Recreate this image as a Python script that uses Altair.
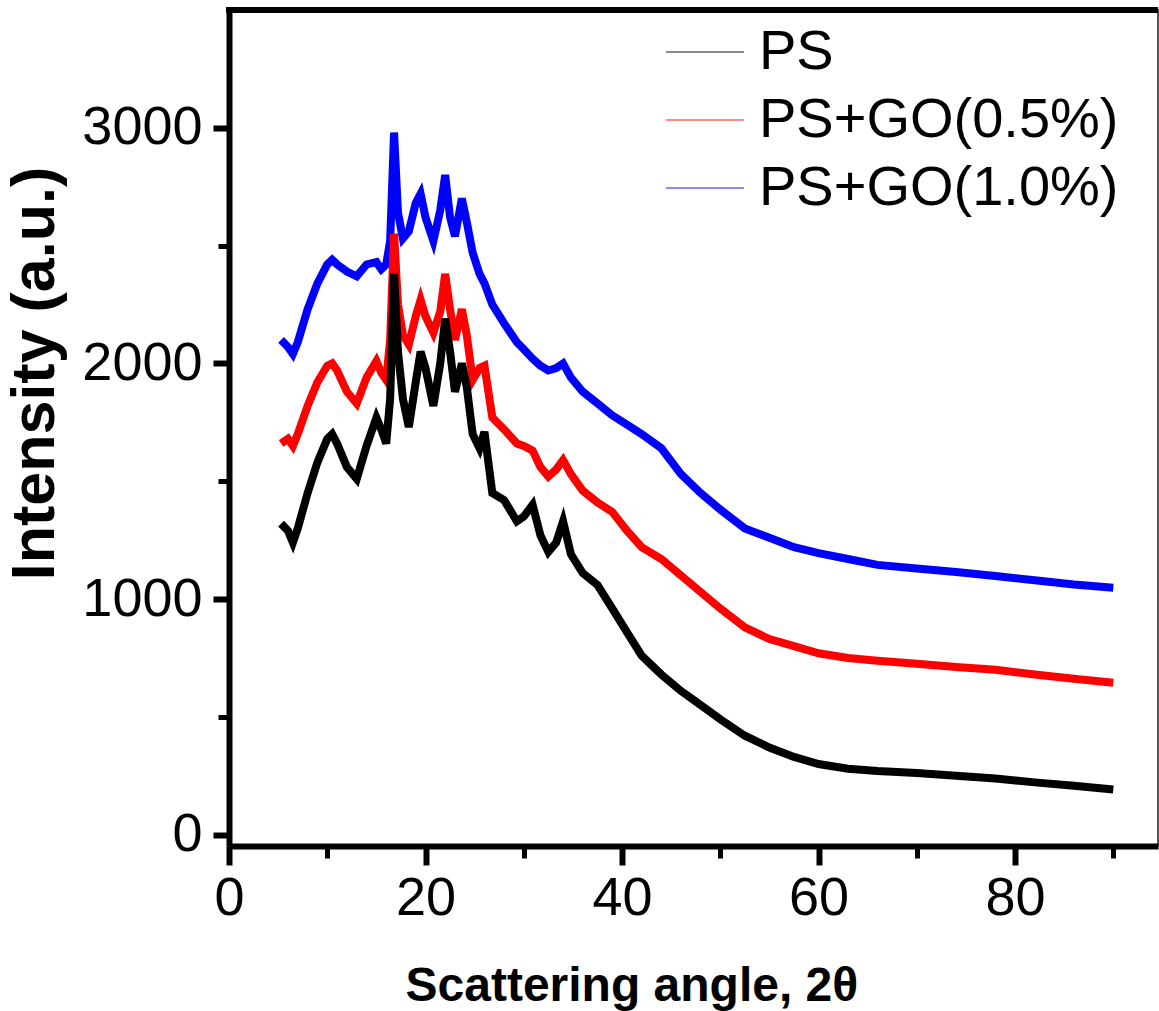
import altair as alt
import pandas as pd

# Scattering angle (2θ) sample positions
angle = [5.3, 6, 6.5, 7, 8, 9, 10, 10.5, 11, 12, 13, 14, 15, 15.5, 16, 16.4, 16.8, 17.2,
         17.7, 18.3, 19, 19.5, 20, 20.8, 21.5, 22, 22.5, 23, 23.7, 24.2, 24.8, 25.5, 26,
         26.8, 28, 29.3, 30, 30.9, 31.7, 32.5, 33.3, 34, 34.8, 36, 37.5, 39, 40.5, 42, 44,
         46, 48, 50, 52.5, 55, 57.5, 60, 63, 66, 70, 74, 78, 82, 86, 90]

ps = [1320, 1290, 1240, 1300, 1450, 1580, 1680, 1700, 1660, 1560, 1510, 1650, 1770, 1720,
      1660, 1850, 2380, 2050, 1850, 1730, 1920, 2050, 1980, 1820, 2000, 2190, 2050, 1880,
      2000, 1900, 1700, 1640, 1710, 1450, 1420, 1330, 1350, 1400, 1270, 1200, 1240, 1330,
      1190, 1110, 1060, 960, 860, 760, 680, 610, 550, 490, 420, 370, 330, 300, 280, 270,
      262, 250, 238, 222, 208, 192]

go05 = [1660, 1680, 1650, 1700, 1820, 1920, 1990, 2000, 1970, 1880, 1830, 1940, 2010, 1960,
        1930, 2100, 2550, 2250, 2120, 2080, 2200, 2270, 2200, 2130, 2220, 2380, 2230, 2100,
        2230, 2120, 1930, 1980, 1990, 1770, 1720, 1660, 1650, 1630, 1560, 1520, 1550, 1590,
        1530, 1460, 1410, 1370, 1290, 1220, 1170, 1100, 1030, 960, 880, 830, 800, 770, 750,
        738, 725, 712, 700, 680, 662, 645]

go10 = [2100, 2070, 2040, 2090, 2230, 2340, 2420, 2440, 2420, 2390, 2370, 2420, 2430, 2400,
        2420, 2520, 2980, 2640, 2530, 2560, 2680, 2720, 2620, 2520, 2650, 2800, 2620, 2540,
        2700, 2600, 2470, 2380, 2340, 2250, 2170, 2090, 2060, 2020, 1990, 1970, 1980, 2000,
        1940, 1880, 1830, 1780, 1740, 1700, 1640, 1530, 1450, 1380, 1300, 1260, 1220, 1195,
        1170, 1145, 1130, 1115, 1098, 1080, 1062, 1048]

series_names = ["PS", "PS+GO(0.5%)", "PS+GO(1.0%)"]
series_colors = ["#000000", "#ff0000", "#0000ff"]

x_major = [0, 20, 40, 60, 80]
x_minor = [10, 30, 50, 70, 90]
y_major = [0, 1000, 2000, 3000]
y_minor = [500, 1500, 2500]

# draw order: blue first, then red, black on top
rows = []
for name, vals in [(series_names[2], go10), (series_names[1], go05), (series_names[0], ps)]:
    for a, v in zip(angle, vals):
        rows.append({"angle": a, "intensity": v, "series": name})
df = pd.DataFrame(rows)

W, H = 929, 836
xdom = [0, 94.55]
ydom = [-48, 3500]
FONT = "Liberation Sans"

xscale = alt.Scale(domain=xdom, nice=False, zero=False)
yscale = alt.Scale(domain=ydom, nice=False, zero=False)

lines = alt.Chart(df).mark_line(strokeWidth=8, clip=True).encode(
    x=alt.X("angle:Q", scale=xscale,
            axis=alt.Axis(values=x_major, tickSize=19, tickWidth=6, tickColor="black",
                          domainWidth=6, domainColor="black", grid=False,
                          labelFont=FONT, labelFontSize=54, labelColor="black",
                          labelPadding=6, labelFlush=False,
                          title="Scattering angle, 2θ", titleFont=FONT, titleFontSize=48,
                          titleFontWeight="bold", titleColor="black",
                          titleX=176, titleY=154, titleAlign="left",
                          titleBaseline="alphabetic")),
    y=alt.Y("intensity:Q", scale=yscale,
            axis=alt.Axis(values=y_major, format="d", tickSize=16, tickWidth=6,
                          tickColor="black",
                          domainWidth=6, domainColor="black", grid=False,
                          labelFont=FONT, labelFontSize=54, labelColor="black",
                          labelPadding=11, labelFlush=False,
                          title="Intensity (a.u.)", titleFont=FONT, titleFontSize=61,
                          titleFontWeight="bold", titleColor="black",
                          titleX=-176, titleY=363, titleAlign="center",
                          titleBaseline="alphabetic", titleAngle=270)),
    color=alt.Color("series:N", sort=series_names,
                    scale=alt.Scale(domain=series_names, range=series_colors),
                    legend=alt.Legend(title=None, orient="none", legendX=436, legendY=2,
                                      symbolType="stroke", symbolSize=6084,
                                      symbolStrokeWidth=2, symbolOpacity=0.45,
                                      labelFont=FONT, labelFontSize=56, labelColor="black",
                                      labelOffset=14, rowPadding=0, padding=0,
                                      labelLimit=0)),
)

minor = alt.Chart(df).mark_line(opacity=0).encode(
    x=alt.X("angle:Q", scale=xscale,
            axis=alt.Axis(orient="bottom", values=x_minor, labels=False, domain=False,
                          tickSize=12, tickWidth=5, tickColor="black", grid=False,
                          title=None)),
    y=alt.Y("intensity:Q", scale=yscale,
            axis=alt.Axis(orient="left", values=y_minor, labels=False, domain=False,
                          tickSize=11, tickWidth=5, tickColor="black", grid=False,
                          title=None)),
)

top_border = alt.Chart(pd.DataFrame({"k": [0]})).mark_rule(
    color="black", strokeWidth=6
).encode(x=alt.value(-3), x2=alt.value(W), y=alt.value(0))

chart = alt.layer(lines, minor, top_border).resolve_scale(
    x="independent", y="independent"
).resolve_axis(x="independent", y="independent").properties(
    width=W, height=H,
    autosize=alt.AutoSizeParams(type="none"),
    padding={"left": 229, "top": 10, "right": 1, "bottom": 165},
    background="white",
).configure_view(stroke="#555555", strokeWidth=2)

chart.save("out.html", embed_options={"renderer": "svg", "actions": False})
